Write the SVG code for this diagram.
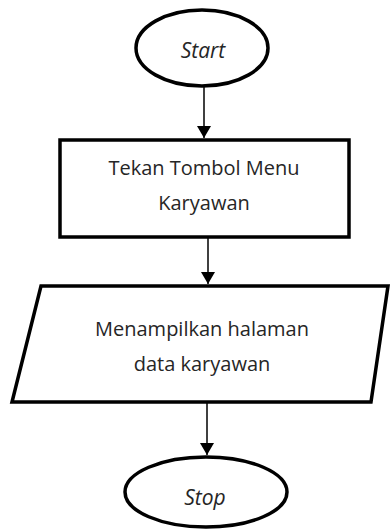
<svg xmlns="http://www.w3.org/2000/svg" width="390" height="530" viewBox="0 0 390 530">
  <style>
    .shape { fill: #ffffff; stroke: #000000; stroke-width: 3.5; }
    .label { font-family: "Open Sans", "Liberation Sans", sans-serif; font-size: 20px; fill: #262626; text-anchor: middle; dominant-baseline: central; }
    .term { font-style: italic; font-size: 21px; }
    .conn { stroke: #000000; stroke-width: 1.5; fill: none; marker-end: url(#arrow); }
  </style>
  <defs>
    <marker id="arrow" markerWidth="12" markerHeight="14" refX="12" refY="7" orient="auto" markerUnits="userSpaceOnUse">
      <path d="M0,0 L12,7 L0,14 Z" fill="#000000"/>
    </marker>
  </defs>
  <rect width="390" height="530" fill="#ffffff"/>

  <g id="connectors">
    <line class="conn" x1="204" y1="87" x2="204" y2="138"/>
    <line class="conn" x1="208" y1="238" x2="208" y2="284"/>
    <line class="conn" x1="207" y1="403" x2="207" y2="455"/>
  </g>

  <g id="start">
    <ellipse class="shape" cx="202" cy="48" rx="66" ry="38"/>
    <text class="label term" x="203" y="50">Start</text>
  </g>

  <g id="menu-karyawan">
    <rect class="shape" x="60" y="140" width="289" height="97" stroke-width="4"/>
    <text class="label" x="204" y="167">Tekan Tombol Menu</text>
    <text class="label" x="204" y="202">Karyawan</text>
  </g>

  <g id="tampil-data">
    <polygon class="shape" points="41,286 388,286 371,402 12,402"/>
    <text class="label" x="202" y="328">Menampilkan halaman</text>
    <text class="label" x="202" y="363">data karyawan</text>
  </g>

  <g id="stop">
    <ellipse class="shape" cx="206" cy="492" rx="81" ry="35"/>
    <text class="label term" x="205" y="497">Stop</text>
  </g>
</svg>
